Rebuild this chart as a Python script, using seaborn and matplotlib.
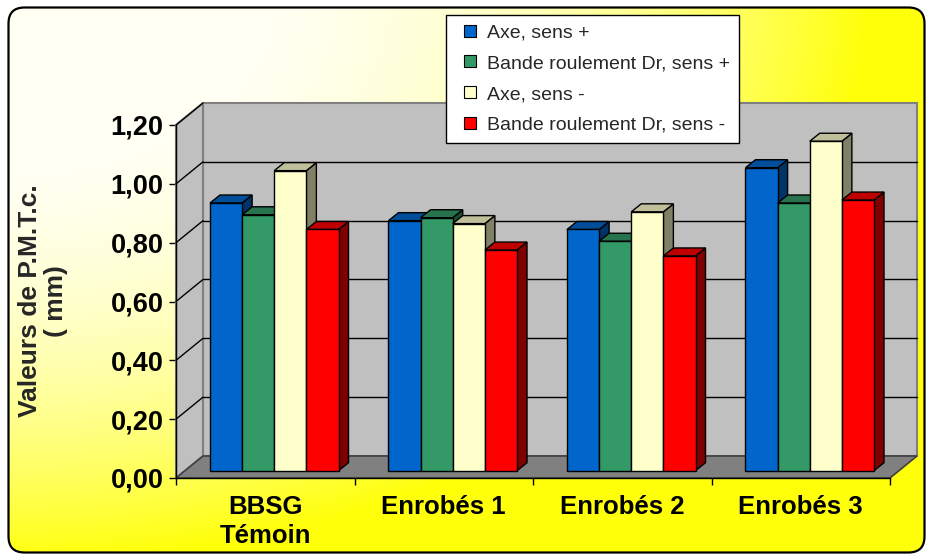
import numpy as np
import pandas as pd
import matplotlib
matplotlib.use("Agg")
import matplotlib.pyplot as plt
import seaborn as sns
from matplotlib.patches import Polygon, Rectangle, FancyBboxPatch
from matplotlib.lines import Line2D
import matplotlib.colors as mcolors

# ---------------- data ----------------
categories = ["BBSG\nTémoin", "Enrobés 1", "Enrobés 2", "Enrobés 3"]
series = ["Axe, sens +", "Bande roulement Dr, sens +", "Axe, sens -", "Bande roulement Dr, sens -"]
axe_plus = [0.91, 0.85, 0.82, 1.03]
bande_plus = [0.87, 0.86, 0.78, 0.91]
axe_minus = [1.02, 0.84, 0.88, 1.12]
bande_minus = [0.82, 0.75, 0.73, 0.92]
colors = ["#0066CC", "#339966", "#FFFFCC", "#FF0000"]
ytick_values = [0.0, 0.2, 0.4, 0.6, 0.8, 1.0, 1.2]
ytick_labels = ["0,00", "0,20", "0,40", "0,60", "0,80", "1,00", "1,20"]
ylabel_text = "Valeurs de P.M.T.c.\n( mm)"

values_by_series = [axe_plus, bande_plus, axe_minus, bande_minus]
rows = []
for s, vals in zip(series, values_by_series):
    for c, v in zip(categories, vals):
        rows.append({"category": c, "series": s, "value": v})
df = pd.DataFrame(rows)

# ---------------- style ----------------
sns.set_theme(style="white")
plt.rcParams["font.family"] = ["Liberation Sans", "DejaVu Sans"]

W, H = 926, 555
fig = plt.figure(figsize=(W / 100, H / 100), dpi=100, facecolor="white")

# background: rounded chart area with diagonal gradient
bg = fig.add_axes([0, 0, 1, 1], zorder=-5)
bg.set_xlim(0, W)
bg.set_ylim(H, 0)
bg.axis("off")
yy, xx = np.mgrid[0:H, 0:W]
s = np.sqrt((xx / 880.0) ** 2 + (yy / 570.0) ** 2)
t = np.clip(s, 0, 1) ** 2.6
t = np.clip(t, 0.04, 0.96)
img = np.dstack([np.ones_like(t), np.ones_like(t), 1 - t])
frame = FancyBboxPatch((8.5, 7.5), 916, 545, boxstyle="round,pad=0,rounding_size=16",
                       facecolor="none", edgecolor="black", lw=1.6, zorder=2)
bg.add_patch(frame)
im = bg.imshow(img, extent=(0, W, H, 0), aspect="auto", interpolation="bilinear", zorder=1)
im.set_clip_path(frame)

# main axes (front plane)
ax = fig.add_axes([176 / W, (H - 478) / H, 714 / W, 353 / H])
ax.patch.set_alpha(0)

sns.barplot(data=df, x="category", y="value", hue="series", order=categories,
            hue_order=series, palette=colors, saturation=1, width=0.72,
            edgecolor="black", linewidth=1, errorbar=None, legend=False, ax=ax)
bars = [p for cont in ax.containers for p in cont]

ax.set_xlim(-0.5, 3.5)
ax.set_ylim(0, 1.2)
ax.set_xlabel("")
ax.set_ylabel("")

ux = 4.0 / 714
uy = 1.2 / 353
DX, DY = 27 * ux, 22 * uy      # wall depth
OX, OY = 9 * ux, 7.3 * uy      # bar front offset
BX, BY = 10 * ux, 8 * uy       # bar depth

x0w, x1w = -0.5, 3.5
ytop = ytick_values[-1]
wall_col = "#C0C0C0"
edge_col = "#808080"
# back wall
ax.add_patch(Rectangle((x0w + DX, DY), x1w - x0w, ytop, facecolor=wall_col,
                       edgecolor=edge_col, lw=1.5, zorder=0.5, clip_on=False))
# left wall
ax.add_patch(Polygon([(x0w, 0), (x0w + DX, DY), (x0w + DX, ytop + DY), (x0w, ytop)],
                     closed=True, facecolor=wall_col, edgecolor=edge_col, lw=1.5,
                     zorder=0.6, clip_on=False))
# floor
ax.add_patch(Polygon([(x0w, 0), (x1w, 0), (x1w + DX, DY), (x0w + DX, DY)],
                     closed=True, facecolor="#808080", edgecolor="#404040", lw=1.2,
                     zorder=0.7, clip_on=False))
# gridlines
for v in ytick_values[1:-1]:
    ax.plot([x0w + DX, x1w + DX], [v + DY, v + DY], color="black", lw=1, zorder=1, clip_on=False)
for v in ytick_values[1:]:
    ax.plot([x0w, x0w + DX], [v, v + DY], color="black", lw=1, zorder=1, clip_on=False)

# pseudo-3D bars
bars_sorted = sorted(bars, key=lambda p: p.get_x())
for k, p in enumerate(bars_sorted):
    x0 = p.get_x()
    w = p.get_width()
    h = p.get_height()
    fc = np.array(mcolors.to_rgb(p.get_facecolor()))
    z = 3 + k * 0.1
    fx0, fx1 = x0 + OX, x0 + w + OX
    fy0, fy1 = OY, h + OY
    side = Polygon([(fx1, fy0), (fx1 + BX, fy0 + BY), (fx1 + BX, fy1 + BY), (fx1, fy1)],
                   closed=True, facecolor=fc * 0.5, edgecolor="black", lw=1, zorder=z, clip_on=False)
    top = Polygon([(fx0, fy1), (fx1, fy1), (fx1 + BX, fy1 + BY), (fx0 + BX, fy1 + BY)],
                  closed=True, facecolor=fc * 0.75, edgecolor="black", lw=1, zorder=z + 0.01, clip_on=False)
    ax.add_patch(side)
    ax.add_patch(top)
    p.set_xy((fx0, fy0))
    p.set_zorder(z + 0.02)
    p.set_clip_on(False)

# spines / ticks
for sp in ["top", "right"]:
    ax.spines[sp].set_visible(False)
for sp in ["left", "bottom"]:
    ax.spines[sp].set_visible(True)
    ax.spines[sp].set_color("black")
    ax.spines[sp].set_linewidth(1)
    ax.spines[sp].set_zorder(2)

ax.set_yticks(ytick_values)
ax.set_yticklabels(ytick_labels, fontsize=19.5, fontweight="bold", color="black")
ax.tick_params(axis="y", direction="out", length=5, width=1, color="black", pad=4, left=True)
ax.set_xticks(range(len(categories)))
ax.set_xticklabels(categories, fontsize=18.5, fontweight="bold", color="black", linespacing=1.3)
ax.set_xticks([-0.5, 0.5, 1.5, 2.5, 3.5], minor=True)
ax.tick_params(axis="x", which="major", length=0, pad=12)
ax.tick_params(axis="x", which="minor", direction="out", length=5, width=1, color="black", bottom=True)

fig.text(43 / W, 1 - 301 / H, ylabel_text, rotation=90, ha="center", va="center",
         fontsize=19, fontweight="bold", linespacing=1.15, multialignment="center")

handles = [Line2D([], [], marker="s", markersize=9, linestyle="none", markerfacecolor=c,
                  markeredgecolor="black", markeredgewidth=0.8) for c in colors]
leg = fig.legend(handles, series, loc="upper left", bbox_to_anchor=(446 / W, 1 - 15 / H),
                 fontsize=14, frameon=True, fancybox=False, framealpha=1, edgecolor="black",
                 borderpad=0.45, handlelength=1.55, handletextpad=0.1, labelspacing=0.68,
                 borderaxespad=0)
leg.get_frame().set_linewidth(1)
leg.set_zorder(10)

fig.savefig("out.png", dpi=100)
